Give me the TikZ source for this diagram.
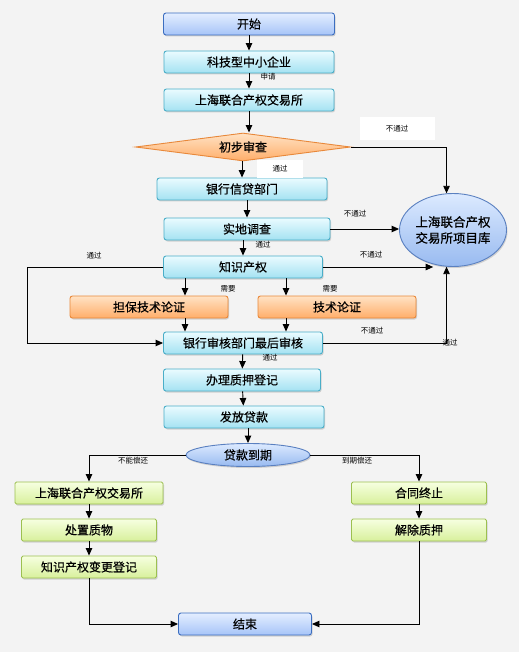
\documentclass[tikz,border=0pt]{standalone}
\usepackage{fontspec}
\newfontfamily\cjk{Noto Sans CJK SC}
\newfontfamily\cjkm[FakeBold=0.6]{Noto Sans CJK SC}
\usetikzlibrary{shapes.geometric, arrows.meta, positioning, calc, shadows}
\definecolor{bgGray}{HTML}{F3F3F3}
\definecolor{blueTop}{HTML}{E4EEFF}
\definecolor{blueBot}{HTML}{A6C4F8}
\definecolor{blueLine}{HTML}{3C6EC0}
\definecolor{cyanTop}{HTML}{EAFBFF}
\definecolor{cyanBot}{HTML}{A4E2F2}
\definecolor{cyanLine}{HTML}{4AAEC8}
\definecolor{orTop}{HTML}{FFE2C4}
\definecolor{orBot}{HTML}{FFAE6A}
\definecolor{orLine}{HTML}{E8883A}
\definecolor{grTop}{HTML}{F6FFE0}
\definecolor{grBot}{HTML}{D8F09C}
\definecolor{grLine}{HTML}{9CC050}
\definecolor{ellTop}{HTML}{DCEAFF}
\definecolor{ellBot}{HTML}{98BAF0}
\definecolor{ellLine}{HTML}{5A80C0}

\begin{document}
\begin{tikzpicture}[x=1pt, y=-1pt,
  base/.style={rounded corners=2.5pt, minimum height=22pt, inner sep=0pt,
    font=\cjkm\fontsize{12}{12}\selectfont, line width=0.9pt,
    drop shadow={shadow xshift=1pt, shadow yshift=-1.5pt, opacity=0.3}},
  bluebox/.style={base, minimum width=171pt, draw=blueLine, top color=blueTop, bottom color=blueBot},
  cyanbox/.style={base, minimum width=170pt, draw=cyanLine, top color=cyanTop, bottom color=cyanBot},
  orangebox/.style={base, minimum width=158pt, draw=orLine, top color=orTop, bottom color=orBot},
  greenbox/.style={base, rounded corners=1.5pt, minimum width=135pt, draw=grLine, top color=grTop, bottom color=grBot},
  chkdia/.style={diamond, shape aspect=7.7, minimum width=215pt, minimum height=28pt, inner sep=0pt,
    draw=orLine, line width=0.9pt, top color=orTop, bottom color=orBot,
    font=\cjkm\fontsize{12}{12}\selectfont},
  dueell/.style={ellipse, minimum width=124pt, minimum height=23pt, inner sep=0pt,
    draw=ellLine, line width=0.9pt, top color=ellTop, bottom color=ellBot,
    font=\cjkm\fontsize{12}{12}\selectfont,
    drop shadow={shadow xshift=1pt, shadow yshift=-1.5pt, opacity=0.3}},
  libell/.style={dueell, minimum width=107pt, minimum height=73pt, align=center,
    font=\cjkm\fontsize{12.5}{16}\selectfont},
  arr/.style={-{Triangle[length=7.5pt,width=6.5pt]}, line width=0.9pt},
  lbl/.style={font=\cjk\fontsize{7.5}{8}\selectfont, inner sep=1pt},
  wlbl/.style={lbl, fill=white}]
  \useasboundingbox[fill=bgGray] (0,0) rectangle (519,652);

  % main column
  \node[bluebox] (start) at (249,24) {开始};
  \node[cyanbox] (kjx) at (249,62) {科技型中小企业};
  \node[cyanbox] (jys) at (249,100) {上海联合产权交易所};
  \node[chkdia] (cbsc) at (243,147) {初步审查};
  \node[cyanbox] (yhxd) at (242,189) {银行信贷部门};
  \node[cyanbox, minimum width=166pt] (sddc) at (247,229) {实地调查};
  \node[cyanbox, minimum width=159pt] (zscq) at (243,267) {知识产权};
  \node[orangebox] (dbjs) at (149,307) {担保技术论证};
  \node[orangebox] (jslz) at (337,307) {技术论证};
  \node[cyanbox, minimum width=159pt] (yhsh) at (243,343) {银行审核部门最后审核};
  \node[cyanbox, minimum width=157pt] (zydj) at (242,380) {办理质押登记};
  \node[cyanbox, minimum width=160pt] (ffdk) at (244,417) {发放贷款};
  \node[dueell] (dkdq) at (248,455) {贷款到期};

  % project pool
  \node[libell] (xmk) at (453,230) {上海联合产权\\交易所项目库};

  % repayment branches
  \node[greenbox, minimum width=148pt] (jys2) at (89,493) {上海联合产权交易所};
  \node[greenbox] (czzw) at (89,530) {处置质物};
  \node[greenbox] (bgdj) at (89,567) {知识产权变更登记};
  \node[greenbox] (htzz) at (419,493) {合同终止};
  \node[greenbox] (jczy) at (419,530) {解除质押};
  \node[bluebox, minimum width=133pt] (end) at (245,624) {结束};

  \coordinate (xa) at (185,0);
  \coordinate (xb) at (286,0);
  \coordinate (lp) at (27,267);

  % straight arrows
  \draw[arr] (start) -- (kjx);
  \draw[arr] (kjx) -- (jys);
  \draw[arr] (jys) -- (jys |- cbsc.north);
  \draw[arr] (cbsc.south -| yhxd) -- (yhxd);
  \draw[arr] (yhxd.south -| sddc) -- (sddc);
  \draw[arr] (sddc.south -| zscq) -- (zscq);
  \draw[arr] (zscq.south -| xa) -- (dbjs.north -| xa);
  \draw[arr] (zscq.south -| xb) -- (jslz.north -| xb);
  \draw[arr] (dbjs.south -| xa) -- (yhsh.north -| xa);
  \draw[arr] (jslz.south -| xb) -- (yhsh.north -| xb);
  \draw[arr] (yhsh) -- (zydj);
  \draw[arr] (zydj) -- (ffdk);
  \draw[arr] (ffdk.south -| dkdq) -- (dkdq);

  % to the project pool
  \draw[arr] (cbsc.east) -| (xmk.100);
  \draw[arr] (sddc.east) -- (sddc.east -| xmk.west);
  \draw[arr] (zscq.east) -- (zscq.east -| xmk.240);
  \draw[arr] (yhsh.east) -| (xmk.260);
  \draw[arr] (zscq.west) -- (lp) |- (yhsh.west);

  % after the due date
  \draw[arr] (dkdq.west) -| (jys2.north);
  \draw[arr] (dkdq.east) -| (htzz.north);
  \draw[arr] (jys2) -- (czzw);
  \draw[arr] (czzw) -- (bgdj);
  \draw[arr] (htzz) -- (jczy);
  \draw[arr] (bgdj.south) |- (end.west);
  \draw[arr] (jczy.south) |- (end.east);

  % labels
  \node[lbl] (l1) at (268,77) {申请};
  \node[wlbl, minimum width=75pt, minimum height=23pt] (l2) at (397,129) {不通过};
  \node[wlbl, minimum width=46pt, minimum height=18pt] (l3) at (280,169) {通过};
  \node[lbl] (l4) at (355,214) {不通过};
  \node[lbl] (l5) at (263,245) {通过};
  \node[lbl] (l6) at (94,256) {通过};
  \node[lbl] (l7) at (371,255) {不通过};
  \node[lbl] (l8) at (228,289) {需要};
  \node[lbl] (l9) at (330,289) {需要};
  \node[lbl] (l10) at (372,331) {不通过};
  \node[lbl] (l11) at (450,343) {通过};
  \node[lbl] (l12) at (270,358) {通过};
  \node[lbl] (l13) at (133,461) {不能偿还};
  \node[lbl] (l14) at (357,461) {到期偿还};
\end{tikzpicture}
\end{document}
